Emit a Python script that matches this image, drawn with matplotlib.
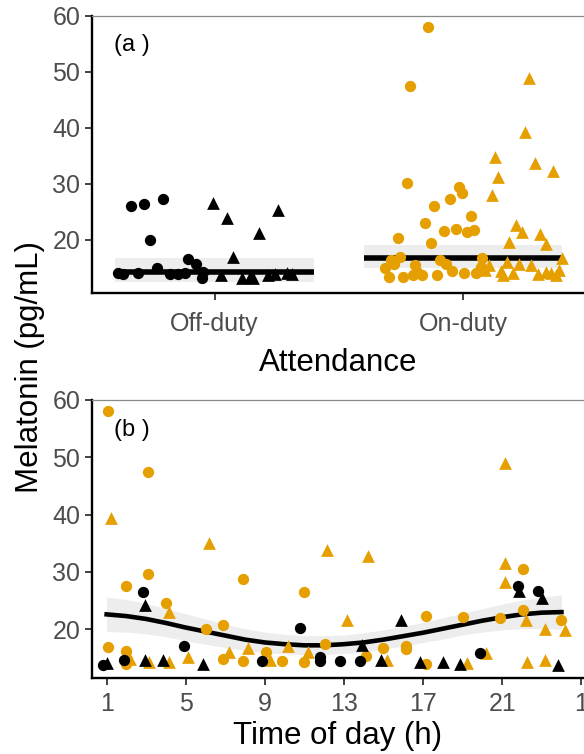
import numpy as np
import matplotlib
matplotlib.use("Agg")
import matplotlib.pyplot as plt

plt.rcParams["font.family"] = ["Liberation Sans", "DejaVu Sans"]

ORANGE = "#E69F00"
BLACK = "#000000"
BAND = "#EDEDED"

# ---- panel (a): melatonin by attendance (offset inside the category, value)
categories = ["Off-duty", "On-duty"]

off_circ_dx = [-0.336, -0.284, -0.207, -0.260, -0.107, -0.074, -0.387, -0.367, -0.307,
               -0.233, -0.179, -0.146, -0.119, -0.052, -0.045]
off_circ_y = [26.0, 26.3, 27.2, 20.0, 16.6, 15.7, 14.0, 13.9, 14.0,
              14.9, 13.9, 13.9, 14.0, 13.1, 14.3]
off_tri_dx = [-0.006, 0.050, 0.256, 0.179, 0.074, 0.025, 0.109, 0.143, 0.156,
              0.217, 0.243, 0.290, 0.311]
off_tri_y = [26.6, 23.9, 25.3, 21.2, 16.9, 13.7, 13.1, 13.4, 13.1,
             13.7, 13.9, 14.0, 13.9]

on_circ_dx = [-0.142, -0.215, -0.226, -0.018, -0.005, -0.054, -0.115, 0.031, -0.152,
              -0.078, -0.030, 0.017, 0.044, -0.262, -0.128, -0.253, -0.289, -0.276,
              -0.312, -0.299, -0.240, -0.195, -0.186, -0.202, -0.164, -0.105, -0.092,
              -0.068, -0.043, 0.006, 0.053, 0.077, 0.073]
on_circ_y = [58.0, 47.4, 30.2, 29.5, 28.4, 27.2, 26.1, 24.2, 23.0,
             21.6, 22.0, 21.3, 21.7, 20.25, 19.4, 17.0, 16.4, 15.7,
             14.9, 13.4, 13.4, 15.5, 14.3, 13.7, 13.7, 13.7, 16.4,
             15.7, 14.5, 14.1, 14.1, 16.7, 15.2]
on_tri_dx = [0.264, 0.250, 0.127, 0.288, 0.361, 0.140, 0.116, 0.214, 0.238,
             0.311, 0.335, 0.187, 0.399, 0.103, 0.087, 0.178, 0.227, 0.274,
             0.154, 0.200, 0.301, 0.335, 0.355, 0.375, 0.388, 0.160]
on_tri_y = [48.8, 39.2, 34.8, 33.75, 32.3, 31.25, 28.0, 22.6, 21.3,
            21.1, 19.2, 19.6, 16.8, 15.5, 14.6, 16.1, 15.7, 15.5,
            14.5, 14.0, 13.9, 14.3, 14.1, 13.7, 14.6, 13.7]

# model estimate and interval per category
est_mid = [14.3, 16.8]
est_lo = [12.5, 14.9]
est_hi = [16.7, 19.05]

# ---- panel (b): melatonin by time of day
off_circ_h = [0.8, 1.86, 2.82, 4.9, 8.87, 10.8, 11.8, 11.8, 12.8, 13.8, 19.9, 21.8, 22.8]
off_circ_v = [13.75, 14.6, 26.5, 17.0, 14.5, 20.3, 15.2, 14.5, 14.5, 14.5, 15.9, 27.6, 26.7]
off_tri_h = [1.0, 2.96, 2.96, 3.84, 5.86, 13.9, 14.86, 15.87, 16.87, 18.0, 18.86,
             21.86, 23.0, 23.84]
off_tri_v = [14.2, 24.2, 14.7, 14.7, 13.9, 17.2, 14.7, 21.7, 14.3, 14.3, 13.9,
             26.7, 25.4, 13.75]

on_circ_h = [1.09, 1.09, 2.0, 2.0, 2.0, 3.08, 3.08, 4.0, 6.0, 6.87, 6.87, 7.89, 7.89,
             9.04, 9.88, 11.0, 11.0, 12.02, 14.1, 15.0, 16.16, 16.16, 17.14, 17.17,
             19.0, 20.88, 22.06, 22.06, 24.0]
on_circ_v = [58.0, 16.9, 27.6, 16.2, 13.9, 47.5, 29.7, 24.6, 20.0, 20.7, 14.9, 28.8, 14.5,
             16.0, 14.5, 26.5, 14.3, 17.4, 15.4, 16.8, 17.0, 16.6, 22.4, 13.9,
             22.1, 21.9, 30.5, 23.3, 21.7]
on_tri_h = [1.22, 2.2, 3.16, 4.17, 4.17, 5.1, 6.2, 7.18, 8.14, 9.24, 10.17, 11.18,
            12.14, 13.15, 14.2, 15.18, 19.2, 20.17, 21.14, 21.14, 21.14, 22.2, 22.24,
            23.16, 23.16, 24.2]
on_tri_v = [39.4, 14.9, 14.3, 23.1, 14.3, 15.1, 35.1, 16.0, 16.7, 14.6, 17.1, 16.1,
            33.9, 21.6, 32.8, 14.7, 14.2, 15.8, 49.0, 31.5, 28.3, 21.6, 14.3,
            20.1, 14.7, 19.9]

# fitted curve, one value per hour
curve_h = list(range(1, 25))
curve_fit = [22.6, 22.3, 21.8, 21.1, 20.3, 19.6, 18.9, 18.2, 17.7, 17.4, 17.2, 17.2,
             17.4, 17.7, 18.2, 18.8, 19.4, 20.1, 20.8, 21.5, 22.1, 22.6, 22.9, 23.0]
curve_hi = [25.6, 25.2, 24.5, 23.6, 22.7, 21.8, 20.9, 20.1, 19.5, 19.1, 18.9, 18.9,
            19.0, 19.4, 19.9, 20.5, 21.2, 22.0, 22.8, 23.6, 24.4, 25.1, 25.6, 26.0]
curve_lo = [19.6, 19.5, 19.2, 18.7, 18.0, 17.4, 16.8, 16.3, 15.9, 15.7, 15.6, 15.6,
            15.8, 16.0, 16.5, 17.1, 17.7, 18.3, 19.0, 19.5, 19.9, 20.1, 20.1, 20.0]

hour_ticks = [1, 5, 9, 13, 17, 21, 25]
hour_labels = ["1", "5", "9", "13", "17", "21", "1"]
y_ticks = [20, 30, 40, 50, 60]

CIRC = 66
TRI = 84


def style_axes(ax):
    for side in ["left", "bottom"]:
        ax.spines[side].set_linewidth(1.7)
        ax.spines[side].set_color("black")
    ax.spines["top"].set_linewidth(0.9)
    ax.spines["top"].set_color("#8a8a8a")
    ax.spines["right"].set_visible(False)
    ax.tick_params(axis="both", length=5, width=1.3, color="#333333",
                   labelsize=18, labelcolor="#4D4D4D")
    ax.set_yticks(y_ticks)


def plot_attendance(ax):
    for i in range(2):
        x = i + 1
        ax.fill_between([x - 0.4, x + 0.4], est_lo[i], est_hi[i], color=BAND, lw=0, zorder=1)
        ax.plot([x - 0.4, x + 0.4], [est_mid[i], est_mid[i]], color="black", lw=4, zorder=2,
                solid_capstyle="butt")

    ax.scatter(1 + np.array(off_circ_dx), off_circ_y, s=CIRC, marker="o", color=BLACK,
               lw=0, zorder=3)
    ax.scatter(1 + np.array(off_tri_dx), off_tri_y, s=TRI, marker="^", color=BLACK,
               lw=0, zorder=3)
    ax.scatter(2 + np.array(on_circ_dx), on_circ_y, s=CIRC, marker="o", color=ORANGE,
               lw=0, zorder=3)
    ax.scatter(2 + np.array(on_tri_dx), on_tri_y, s=TRI, marker="^", color=ORANGE,
               lw=0, zorder=3)

    ax.set_xlim(0.507, 2.487)
    ax.set_ylim(10.5, 60)
    ax.set_xticks([1, 2])
    ax.set_xticklabels(categories)
    ax.tick_params(axis="x", pad=9)
    ax.set_xlabel("Attendance", fontsize=22.5, labelpad=8)
    ax.text(0.045, 0.893, "(a )", transform=ax.transAxes, fontsize=17, va="center")


def plot_time(ax):
    ax.fill_between(curve_h, curve_lo, curve_hi, color=BAND, lw=0, zorder=1)
    ax.plot(curve_h, curve_fit, color="black", lw=3.3, zorder=2)

    ax.scatter(on_circ_h, on_circ_v, s=CIRC, marker="o", color=ORANGE, lw=0, zorder=3)
    ax.scatter(on_tri_h, on_tri_v, s=TRI, marker="^", color=ORANGE, lw=0, zorder=3)
    ax.scatter(off_circ_h, off_circ_v, s=CIRC, marker="o", color=BLACK, lw=0, zorder=3)
    ax.scatter(off_tri_h, off_tri_v, s=TRI, marker="^", color=BLACK, lw=0, zorder=3)

    ax.set_xlim(0.26, 25.14)
    ax.set_ylim(11.5, 60)
    ax.set_xticks(hour_ticks)
    ax.set_xticklabels(hour_labels)
    ax.tick_params(axis="x", pad=5)
    ax.set_xlabel("Time of day (h)", fontsize=22.5, labelpad=4)
    ax.text(0.045, 0.893, "(b )", transform=ax.transAxes, fontsize=17, va="center")


fig = plt.figure(figsize=(5.84, 7.54), dpi=100)
ax_a = fig.add_axes([92 / 584, 1 - 293 / 754, 1 - 92 / 584, (293 - 15.7) / 754])
ax_b = fig.add_axes([92 / 584, 1 - 678 / 754, 1 - 92 / 584, (678 - 400) / 754])

for ax in (ax_a, ax_b):
    style_axes(ax)
plot_attendance(ax_a)
plot_time(ax_b)

fig.text(30 / 584, 1 - 367 / 754, "Melatonin (pg/mL)", rotation=90, fontsize=22.5,
         ha="center", va="center")

fig.savefig("out.png", dpi=100)
plt.close(fig)
